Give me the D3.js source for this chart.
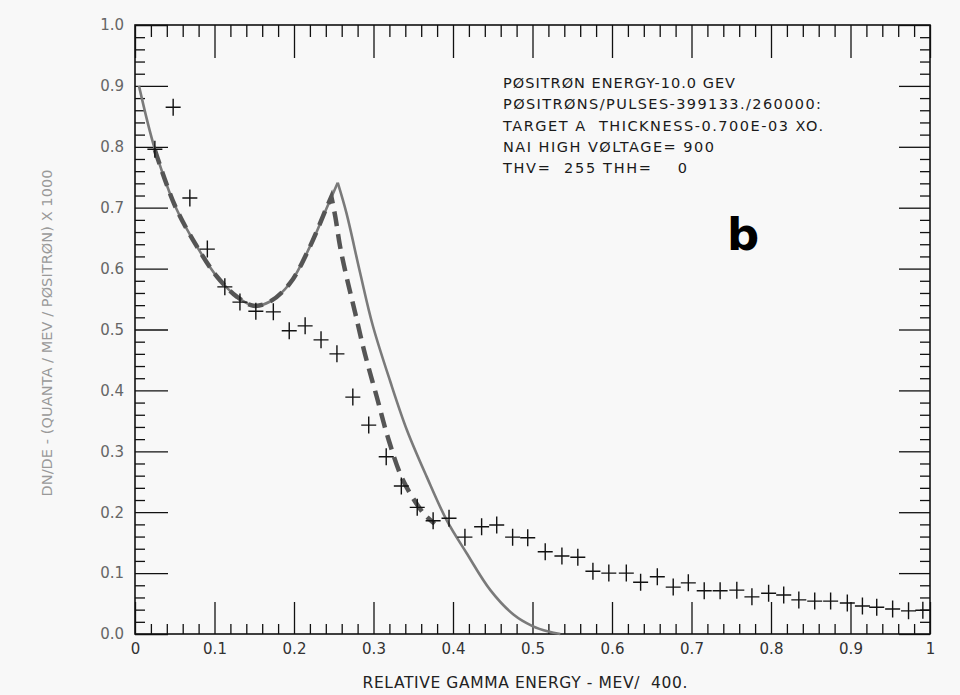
<!DOCTYPE html>
<html>
<head>
<meta charset="utf-8">
<script src="https://cdn.jsdelivr.net/npm/d3@7"></script>
<style>
  body { margin: 0; background: #f8f8f8; }
  svg { display: block; }
  text { font-family: "DejaVu Sans", sans-serif; }
</style>
</head>
<body>
<script>
// measured spectrum points (the crosses)
var pointX = [0.025, 0.048, 0.069, 0.091, 0.113, 0.132, 0.152, 0.174, 0.194, 0.214,
  0.234, 0.254, 0.274, 0.294, 0.316, 0.335, 0.355, 0.375, 0.395, 0.415,
  0.436, 0.455, 0.475, 0.494, 0.516, 0.537, 0.557, 0.576, 0.596, 0.618,
  0.636, 0.657, 0.677, 0.696, 0.716, 0.736, 0.757, 0.776, 0.797, 0.816,
  0.835, 0.855, 0.875, 0.896, 0.915, 0.933, 0.953, 0.973, 0.991];
var pointY = [0.796, 0.865, 0.716, 0.632, 0.570, 0.545, 0.530, 0.529, 0.498, 0.506,
  0.483, 0.460, 0.389, 0.343, 0.291, 0.243, 0.208, 0.186, 0.190, 0.159,
  0.176, 0.179, 0.159, 0.158, 0.135, 0.128, 0.126, 0.103, 0.100, 0.100,
  0.085, 0.094, 0.077, 0.084, 0.071, 0.071, 0.072, 0.061, 0.067, 0.064,
  0.056, 0.054, 0.054, 0.051, 0.046, 0.044, 0.041, 0.038, 0.039];

// solid theory curve, rising part up to the edge, then falling part
var solidRiseX = [0.005, 0.025, 0.050, 0.078, 0.103, 0.128, 0.149, 0.170, 0.195, 0.220, 0.241, 0.255];
var solidRiseY = [0.900, 0.796, 0.704, 0.636, 0.587, 0.554, 0.539, 0.546, 0.576, 0.636, 0.699, 0.741];
var solidFallX = [0.255, 0.266, 0.283, 0.299, 0.321, 0.342, 0.367, 0.392, 0.417, 0.447, 0.476, 0.500, 0.520, 0.535];
var solidFallY = [0.741, 0.691, 0.594, 0.507, 0.415, 0.335, 0.258, 0.187, 0.133, 0.072, 0.032, 0.013, 0.004, 0.000];

// dashed curve, same split
var dashRiseX = [0.025, 0.050, 0.078, 0.103, 0.128, 0.149, 0.170, 0.195, 0.220, 0.240, 0.247];
var dashRiseY = [0.795, 0.704, 0.636, 0.587, 0.554, 0.539, 0.546, 0.576, 0.636, 0.697, 0.718];
var dashFallX = [0.247, 0.252, 0.258, 0.266, 0.277, 0.289, 0.304, 0.319, 0.337, 0.363, 0.377];
var dashFallY = [0.718, 0.685, 0.636, 0.587, 0.527, 0.461, 0.390, 0.319, 0.253, 0.198, 0.181];

var xTicks = [0, 0.1, 0.2, 0.3, 0.4, 0.5, 0.6, 0.7, 0.8, 0.9, 1];
var xTickLabels = ["0", "0.1", "0.2", "0.3", "0.4", "0.5", "0.6", "0.7", "0.8", "0.9", "1"];
var yTicks = [0, 0.1, 0.2, 0.3, 0.4, 0.5, 0.6, 0.7, 0.8, 0.9, 1];
var yTickLabels = ["0.0", "0.1", "0.2", "0.3", "0.4", "0.5", "0.6", "0.7", "0.8", "0.9", "1.0"];

var infoLines = [
  {t: "PØSITRØN ENERGY-10.0 GEV", w: 232},
  {t: "PØSITRØNS/PULSES-399133./260000:", w: 318},
  {t: "TARGET A  THICKNESS-0.700E-03 XO.", w: 320},
  {t: "NAI HIGH VØLTAGE= 900", w: 211},
  {t: "THV=  255 THH=    0", w: 184}
];

var W = 960, H = 695;
var svg = d3.select("body").append("svg")
  .attr("width", W)
  .attr("height", H);

svg.append("rect").attr("width", W).attr("height", H).attr("fill", "#f8f8f8");

var x = d3.scaleLinear().domain([0, 1]).range([135, 930]);
var y = d3.scaleLinear().domain([0, 1]).range([634, 25]);

var minor = d3.range(0, 1.0001, 0.02).filter(function(v) {
  return Math.abs(v * 10 - Math.round(v * 10)) > 1e-6;
});

function styleAxis(g) {
  g.select(".domain").remove();
  g.selectAll(".tick line").attr("stroke", "#111").attr("stroke-width", 1.3);
}

// bottom axis
svg.append("g").attr("transform", "translate(0," + y(0) + ")")
  .call(d3.axisBottom(x).tickValues(xTicks).tickSizeInner(-32).tickSizeOuter(0).tickPadding(9.5)
    .tickFormat(function(d, i) { return xTickLabels[i]; }))
  .call(styleAxis)
  .call(function(g) {
    g.selectAll("text").attr("font-size", 15).attr("fill", "#333")
      .attr("font-family", "DejaVu Sans");
  });
svg.append("g").attr("transform", "translate(0," + y(0) + ")")
  .call(d3.axisBottom(x).tickValues(minor).tickSizeInner(-10).tickSizeOuter(0).tickFormat(""))
  .call(styleAxis);

// top axis
svg.append("g").attr("transform", "translate(0," + y(1) + ")")
  .call(d3.axisTop(x).tickValues(xTicks).tickSizeInner(-33).tickSizeOuter(0).tickFormat(""))
  .call(styleAxis);
svg.append("g").attr("transform", "translate(0," + y(1) + ")")
  .call(d3.axisTop(x).tickValues(minor).tickSizeInner(-12).tickSizeOuter(0).tickFormat(""))
  .call(styleAxis);

// left axis
svg.append("g").attr("transform", "translate(" + x(0) + ",0)")
  .call(d3.axisLeft(y).tickValues(yTicks).tickSizeInner(-33).tickSizeOuter(0).tickPadding(11)
    .tickFormat(function(d, i) { return yTickLabels[i]; }))
  .call(styleAxis)
  .call(function(g) {
    g.selectAll("text").attr("font-size", 15).attr("fill", "#666")
      .attr("font-family", "DejaVu Sans");
  });
svg.append("g").attr("transform", "translate(" + x(0) + ",0)")
  .call(d3.axisLeft(y).tickValues(minor).tickSizeInner(-10).tickSizeOuter(0).tickFormat(""))
  .call(styleAxis);

// right axis
svg.append("g").attr("transform", "translate(" + x(1) + ",0)")
  .call(d3.axisRight(y).tickValues(yTicks).tickSizeInner(-31).tickSizeOuter(0).tickFormat(""))
  .call(styleAxis);
svg.append("g").attr("transform", "translate(" + x(1) + ",0)")
  .call(d3.axisRight(y).tickValues(minor).tickSizeInner(-10).tickSizeOuter(0).tickFormat(""))
  .call(styleAxis);

// frame
svg.append("rect")
  .attr("x", x(0)).attr("y", y(1))
  .attr("width", x(1) - x(0)).attr("height", y(0) - y(1))
  .attr("fill", "none").attr("stroke", "#111").attr("stroke-width", 1.6);

// curves: each branch smoothed on its own so the edge stays sharp
var line = d3.line()
  .x(function(d) { return x(d[0]); })
  .y(function(d) { return y(d[1]); })
  .curve(d3.curveCatmullRom.alpha(0.5));

function pairs(xs, ys) {
  return xs.map(function(v, i) { return [v, ys[i]]; });
}

[pairs(solidRiseX, solidRiseY), pairs(solidFallX, solidFallY)].forEach(function(seg) {
  svg.append("path")
    .datum(seg)
    .attr("d", line)
    .attr("fill", "none").attr("stroke", "#7a7a7a").attr("stroke-width", 2.6)
    .attr("stroke-linejoin", "miter");
});

svg.append("path")
  .datum(pairs(dashRiseX, dashRiseY))
  .attr("d", function(d) { return line(d) + line(pairs(dashFallX, dashFallY)).replace(/^M/, "L"); })
  .attr("fill", "none").attr("stroke", "#555").attr("stroke-width", 4.5)
  .attr("stroke-dasharray", "15,8");

// crosses
svg.append("g").selectAll("path.pt")
  .data(pairs(pointX, pointY))
  .join("path")
  .attr("class", "pt")
  .attr("transform", function(d) { return "translate(" + x(d[0]) + "," + y(d[1]) + ")"; })
  .attr("d", "M-7.5,0H7.5M0,-8.5V8.5")
  .attr("stroke", "#111").attr("stroke-width", 1.4).attr("fill", "none");

// info block
svg.append("g").selectAll("text.info")
  .data(infoLines)
  .join("text")
  .attr("class", "info")
  .attr("x", 503)
  .attr("y", function(d, i) { return 88 + i * 21.3; })
  .attr("font-size", 14.5)
  .attr("fill", "#1a1a1a")
  .attr("textLength", function(d) { return d.w; })
  .style("white-space", "pre")
  .text(function(d) { return d.t; });

// panel letter
svg.append("text")
  .attr("x", 727).attr("y", 250)
  .attr("font-family", "Liberation Sans, Arial, sans-serif")
  .attr("font-weight", "bold")
  .attr("font-size", 45)
  .attr("fill", "#000")
  .text("b");

// axis titles
svg.append("text")
  .attr("x", 525).attr("y", 688)
  .attr("text-anchor", "middle")
  .attr("font-size", 15.5)
  .attr("fill", "#222")
  .attr("textLength", 325)
  .style("white-space", "pre")
  .text("RELATIVE GAMMA ENERGY - MEV/  400.");

svg.append("text")
  .attr("transform", "translate(52,333) rotate(-90)")
  .attr("text-anchor", "middle")
  .attr("font-size", 14.5)
  .attr("fill", "#999")
  .attr("textLength", 327)
  .text("DN/DE - (QUANTA / MEV / PØSITRØN) X 1000");
</script>
</body>
</html>
